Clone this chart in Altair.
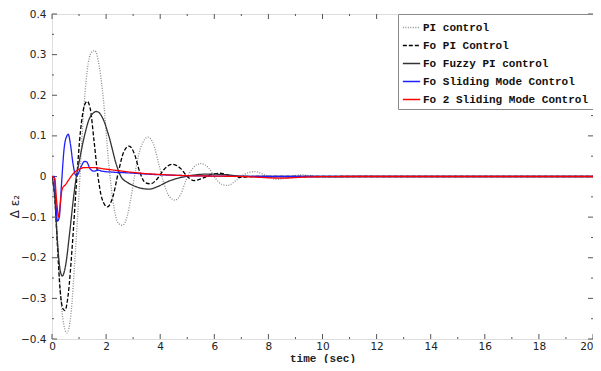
import altair as alt
import pandas as pd

series_names = ["PI control", "Fo PI Control", "Fo Fuzzy PI control",
                "Fo Sliding Mode Control", "Fo 2 Sliding Mode Control"]
series_colors = ["#8c8c8c", "#000000", "#333333", "#1f1fff", "#ff0000"]

pi_t = [0, 0.1, 0.2, 0.3, 0.4, 0.55, 0.7, 0.85, 1.0, 1.15, 1.3, 1.45, 1.58, 1.75, 1.9, 2.1, 2.3, 2.45,
        2.6, 2.75, 2.9, 3.1, 3.3, 3.55, 3.75, 3.95, 4.15, 4.35, 4.55, 4.75, 4.95, 5.2, 5.5, 5.8, 6.05,
        6.3, 6.5, 6.8, 7.1, 7.5, 7.9, 8.3, 8.7, 9.2, 9.8, 10.5, 11.5, 12.5, 20]
pi_y = [0, -0.03, -0.15, -0.27, -0.35, -0.385, -0.34, -0.2, -0.04, 0.14, 0.26, 0.305, 0.31, 0.27,
        0.19, 0.03, -0.08, -0.115, -0.12, -0.105, -0.06, 0.02, 0.075, 0.097, 0.08, 0.03, -0.02, -0.05,
        -0.058, -0.045, -0.01, 0.02, 0.032, 0.02, -0.005, -0.02, -0.022, -0.01, 0.005, 0.012, 0.003,
        -0.007, -0.003, 0.004, 0.0, -0.002, 0.001, 0, 0]

fopi_t = [0, 0.1, 0.2, 0.3, 0.4, 0.48, 0.6, 0.75, 0.9, 1.05, 1.2, 1.3, 1.42, 1.55, 1.7, 1.85, 2.05,
          2.25, 2.45, 2.65, 2.85, 3.05, 3.25, 3.45, 3.65, 3.9, 4.15, 4.45, 4.75, 5.0, 5.25, 5.5, 5.9,
          6.2, 6.6, 7.0, 7.5, 20]
fopi_y = [0, -0.05, -0.17, -0.28, -0.325, -0.33, -0.29, -0.17, -0.02, 0.11, 0.175, 0.185, 0.165,
          0.09, 0.0, -0.055, -0.075, -0.05, 0.01, 0.06, 0.075, 0.055, 0.01, -0.015, -0.018, -0.005,
          0.018, 0.03, 0.02, 0.0, -0.01, -0.006, 0.005, 0.008, 0.002, -0.002, 0, 0]

fuzzy_t = [0, 0.1, 0.2, 0.3, 0.38, 0.5, 0.65, 0.8, 0.9, 1.0, 1.2, 1.4, 1.65, 1.9, 2.1, 2.4, 2.55,
           2.8, 3.0, 3.3, 3.6, 3.9, 4.3, 4.8, 5.3, 5.8, 6.3, 7.0, 8.0, 20]
fuzzy_y = [0, -0.05, -0.16, -0.23, -0.245, -0.22, -0.14, -0.05, 0.0, 0.035, 0.1, 0.145, 0.16, 0.14,
           0.1, 0.025, 0.0, -0.015, -0.022, -0.029, -0.031, -0.025, -0.012, -0.002, 0.004, 0.006,
           0.005, 0.001, 0, 0]

smc_t = [0, 0.08, 0.15, 0.2, 0.27, 0.35, 0.45, 0.55, 0.6, 0.68, 0.78, 0.88, 0.95, 1.05, 1.2, 1.28,
         1.4, 1.55, 1.7, 1.85, 2.2, 2.8, 3.5, 4.5, 6.0, 8.0, 20]
smc_y = [0, 0, -0.07, -0.11, -0.1, -0.02, 0.07, 0.1, 0.104, 0.08, 0.03, 0.003, 0.005, 0.02, 0.037,
         0.036, 0.02, 0.013, 0.016, 0.013, 0.011, 0.009, 0.006, 0.003, 0.001, 0, 0]

smc2_t = [0, 0.1, 0.17, 0.25, 0.3, 0.38, 0.5, 0.65, 0.8, 1.0, 1.2, 1.5, 2.0, 2.5, 3.0, 3.5, 4.0, 5.0,
          6.0, 7.0, 8.5, 9.5, 11, 20]
smc2_y = [0, -0.005, -0.06, -0.1, -0.07, -0.03, -0.02, -0.005, 0.008, 0.018, 0.022, 0.022, 0.018,
          0.014, 0.01, 0.007, 0.005, 0.002, 0.001, 0, -0.004, -0.001, 0, 0]

x_major = [0, 2, 4, 6, 8, 10, 12, 14, 16, 18, 20]
x_minor = [1, 3, 5, 7, 9, 11, 13, 15, 17, 19]
y_major = [-0.4, -0.3, -0.2, -0.1, 0, 0.1, 0.2, 0.3, 0.4]
y_minor = [-0.35, -0.25, -0.15, -0.05, 0.05, 0.15, 0.25, 0.35]

rows = []
for name, ts, ys in zip(series_names, [pi_t, fopi_t, fuzzy_t, smc_t, smc2_t],
                        [pi_y, fopi_y, fuzzy_y, smc_y, smc2_y]):
    for i, (t, y) in enumerate(zip(ts, ys)):
        rows.append({"series": name, "t": t, "y": y, "i": i})
df = pd.DataFrame(rows)

W, H = 541, 325
mono = "Liberation Mono"
xs = alt.Scale(domain=[0, 20], nice=False)
ys_ = alt.Scale(domain=[-0.4, 0.4], nice=False)

lines = alt.Chart(df).mark_line(interpolate="monotone", clip=True).encode(
    x=alt.X("t:Q", scale=xs, title="time (sec)",
            axis=alt.Axis(values=x_major, ticks=False, labelFont="DejaVu Sans", labelFontSize=10.5,
                          labelColor="#222", titleFont=mono, titleFontSize=11, titleFontWeight="bold",
                          titleColor="#222", labelPadding=2, domain=False, grid=False,
                          titleY=22, titleBaseline="alphabetic",
                          labelAlign={"condition": {"test": "datum.value == 20", "value": "right"},
                                      "value": "center"},
                          labelFlush=False, labelOverlap=False)),
    y=alt.Y("y:Q", scale=ys_, title="Δ  ε₂",
            axis=alt.Axis(values=y_major, ticks=False, labelFont="DejaVu Sans", labelFontSize=10.5,
                          labelColor="#222", titleFont="DejaVu Sans", titleFontSize=12,
                          titleFontWeight="normal",
                          titleColor="#222", labelPadding=6, domain=False, grid=False,
                          titleAngle=-90, titleX=-38, titleY=192, titleAlign="center",
                          titleBaseline="middle", labelFlush=False, labelOverlap=False,
                          format=".1f", labelExpr="datum.value == 0 ? '0' : datum.label")),
    color=alt.Color("series:N", scale=alt.Scale(domain=series_names, range=series_colors),
                    sort=series_names, title=None,
                    legend=alt.Legend(orient="top-right", offset=0, labelFont=mono, labelFontSize=11,
                                      labelFontWeight="bold", labelColor="#111", symbolType="stroke",
                                      symbolSize=300, symbolStrokeWidth=1.5, strokeColor="#888",
                                      fillColor="white", padding=4, rowPadding=3, labelOffset=2,
                                      labelLimit=400, cornerRadius=0)),
    strokeDash=alt.StrokeDash("series:N",
                              scale=alt.Scale(domain=series_names,
                                              range=[[1, 1.5], [4, 2], [1, 0], [1, 0], [1, 0]]),
                              sort=series_names, title=None),
    strokeWidth=alt.StrokeWidth("series:N",
                                scale=alt.Scale(domain=series_names, range=[1.3, 1.3, 1.9, 1.3, 1.7]),
                                legend=None),
    order="i:Q",
)

tickdf_xM = pd.DataFrame({"v": x_major})
tickdf_xm = pd.DataFrame({"v": x_minor})
tickdf_yM = pd.DataFrame({"v": y_major})
tickdf_ym = pd.DataFrame({"v": y_minor})

def xticks(d, L):
    b = alt.Chart(d).mark_rule(color="#555", strokeWidth=1).encode(
        x=alt.X("v:Q", scale=xs), y=alt.value(H), y2=alt.value(H - L))
    t = alt.Chart(d).mark_rule(color="#555", strokeWidth=1).encode(
        x=alt.X("v:Q", scale=xs), y=alt.value(0), y2=alt.value(L))
    return b + t

def yticks(d, L):
    l = alt.Chart(d).mark_rule(color="#555", strokeWidth=1).encode(
        y=alt.Y("v:Q", scale=ys_), x=alt.value(0), x2=alt.value(L))
    r = alt.Chart(d).mark_rule(color="#555", strokeWidth=1).encode(
        y=alt.Y("v:Q", scale=ys_), x=alt.value(W), x2=alt.value(W - L))
    return l + r

chart = alt.layer(
    xticks(tickdf_xM, 5), xticks(tickdf_xm, 2), yticks(tickdf_yM, 5), yticks(tickdf_ym, 2), lines
).properties(
    width=W, height=H,
    autosize=alt.AutoSizeParams(type="none"),
    padding={"left": 44, "top": 6, "right": 0, "bottom": 24},
).configure_view(stroke="#555", strokeWidth=1.2).configure(background="white")

chart.save("out.html", embed_options={"renderer": "svg", "actions": False})
